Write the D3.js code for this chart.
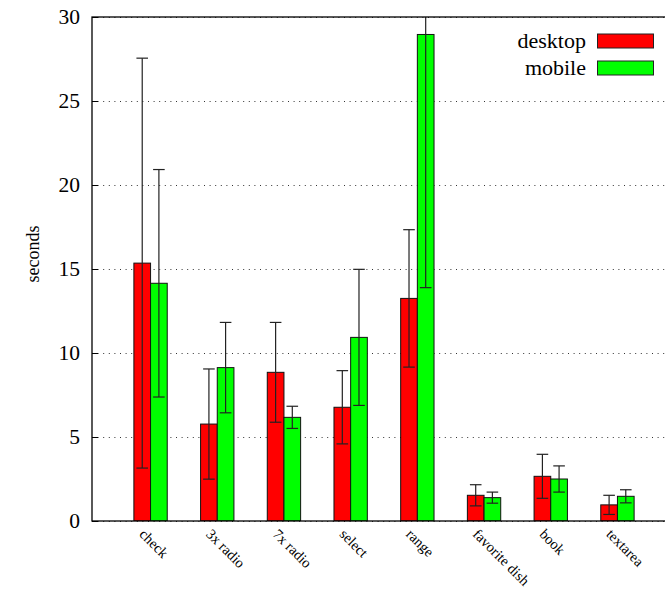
<!DOCTYPE html>
<html>
<head>
<meta charset="utf-8">
<script src="https://cdn.jsdelivr.net/npm/d3@7"></script>
<style>
  body { margin: 0; background: #fff; }
  svg { display: block; font-family: "Liberation Serif", "DejaVu Serif", serif; }
</style>
</head>
<body>
<script>
var categories = ["check", "3x radio", "7x radio", "select", "range", "favorite dish", "book", "textarea"];
var seriesNames = ["desktop", "mobile"];
var desktopMean = [15.35, 5.77, 8.85, 6.77, 13.25, 1.53, 2.66, 0.96];
var desktopSd = [12.2, 3.28, 2.97, 2.18, 4.09, 0.63, 1.31, 0.57];
var mobileMean = [14.15, 9.13, 6.17, 10.93, 28.96, 1.39, 2.5, 1.47];
var mobileSd = [6.77, 2.69, 0.66, 4.05, 15.07, 0.33, 0.78, 0.39];
var yTicks = [0, 5, 10, 15, 20, 25, 30];
var colors = ["#ff0000", "#00ff00"];

var W = 665, H = 589;
var plotL = 92, plotR = 676, plotT = 17, plotB = 521;

var svg = d3.select("body").append("svg")
    .attr("width", W)
    .attr("height", H);

var x = d3.scaleBand()
    .domain(categories)
    .range([plotL, plotR])
    .paddingInner(0)
    .paddingOuter(0.378);

var y = d3.scaleLinear()
    .domain([0, 30])
    .range([plotB, plotT]);

var barW = x.bandwidth() * 0.25;

svg.append("defs").append("clipPath").attr("id", "plot")
    .append("rect")
    .attr("x", plotL).attr("y", plotT)
    .attr("width", plotR - plotL).attr("height", plotB - plotT);

// dotted grid
var grid = svg.append("g")
    .attr("transform", "translate(" + plotL + ",0)")
    .call(d3.axisLeft(y).tickValues(yTicks).tickSize(-(plotR - plotL)).tickFormat(""));
grid.select(".domain").remove();
grid.selectAll("line")
    .attr("stroke", "#000")
    .attr("stroke-width", 1)
    .attr("stroke-dasharray", "1,4.6")
    .attr("stroke-opacity", 0.8);

var series = [
    { name: seriesNames[0], mean: desktopMean, sd: desktopSd, off: -1 },
    { name: seriesNames[1], mean: mobileMean, sd: mobileSd, off: 0 }
];

var plot = svg.append("g").attr("clip-path", "url(#plot)");

series.forEach(function (s, si) {
    var g = plot.append("g");
    g.selectAll("rect")
        .data(categories)
        .enter().append("rect")
        .attr("x", function (d) { return x(d) + x.bandwidth() / 2 + s.off * barW; })
        .attr("y", function (d, i) { return y(s.mean[i]); })
        .attr("width", barW)
        .attr("height", function (d, i) { return y(0) - y(s.mean[i]); })
        .attr("fill", colors[si])
        .attr("stroke", "#111")
        .attr("stroke-width", 1);
});

series.forEach(function (s) {
    var g = plot.append("g")
        .attr("stroke", "#222")
        .attr("stroke-width", 1.2);
    categories.forEach(function (d, i) {
        var cx = x(d) + x.bandwidth() / 2 + s.off * barW + barW / 2;
        var lo = y(s.mean[i] - s.sd[i]), hi = y(s.mean[i] + s.sd[i]);
        g.append("line").attr("x1", cx).attr("x2", cx).attr("y1", lo).attr("y2", hi);
        g.append("line").attr("x1", cx - 5.8).attr("x2", cx + 5.8).attr("y1", lo).attr("y2", lo);
        g.append("line").attr("x1", cx - 5.8).attr("x2", cx + 5.8).attr("y1", hi).attr("y2", hi);
    });
});

// frame
svg.append("rect")
    .attr("x", plotL).attr("y", plotT)
    .attr("width", plotR - plotL).attr("height", plotB - plotT)
    .attr("fill", "none")
    .attr("stroke", "#000")
    .attr("stroke-width", 1.3);

// y axis
var yAxis = svg.append("g")
    .attr("transform", "translate(" + plotL + ",0)")
    .call(d3.axisLeft(y).tickValues(yTicks).tickSize(-6).tickPadding(12));
yAxis.select(".domain").remove();
yAxis.selectAll("line").attr("stroke", "#000");
yAxis.selectAll("text")
    .attr("font-family", "Liberation Serif")
    .attr("font-size", 21.5)
    .attr("fill", "#000");

// x tick labels
svg.append("g").selectAll("text")
    .data(categories)
    .enter().append("text")
    .attr("transform", function (d) {
        return "translate(" + (x(d) + x.bandwidth() / 2 - 12) + "," + 535 + ") rotate(45)";
    })
    .attr("font-size", 14.5)
    .text(function (d) { return d; });

// y label
svg.append("text")
    .attr("transform", "translate(39,254) rotate(-90)")
    .attr("text-anchor", "middle")
    .attr("font-size", 18)
    .text("seconds");

// legend
var legend = svg.append("g");
seriesNames.forEach(function (n, i) {
    var ly = 34 + i * 27;
    legend.append("text")
        .attr("x", 586).attr("y", ly + 14)
        .attr("text-anchor", "end")
        .attr("font-size", 22)
        .text(n);
    legend.append("rect")
        .attr("x", 597.5).attr("y", ly)
        .attr("width", 56).attr("height", 14)
        .attr("fill", colors[i])
        .attr("stroke", "#222")
        .attr("stroke-width", 1);
});
</script>
</body>
</html>
